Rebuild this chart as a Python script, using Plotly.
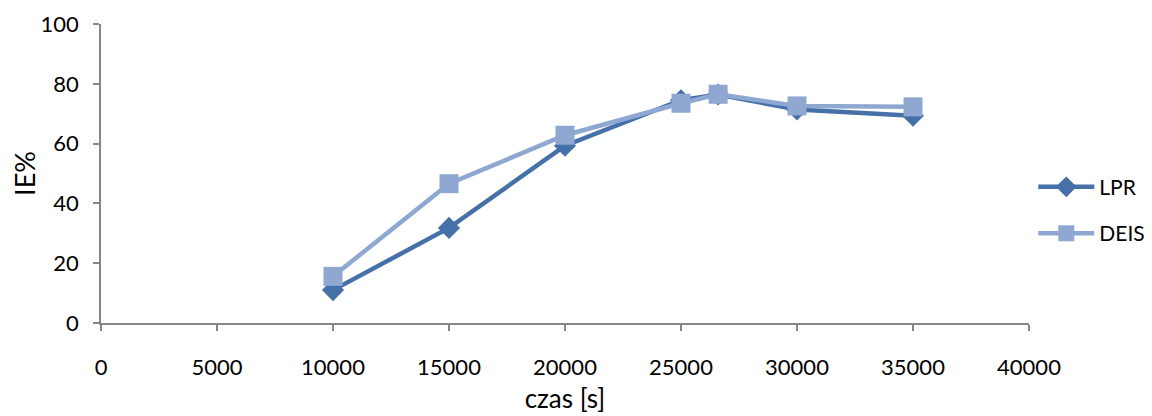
import plotly.graph_objects as go

time_s = [10000, 15000, 20000, 25000, 26600, 30000, 35000]
lpr = [11.0, 31.8, 59.3, 74.5, 76.4, 71.4, 69.3]
deis = [15.6, 46.6, 62.8, 73.5, 76.5, 72.6, 72.3]

x_ticks = [0, 5000, 10000, 15000, 20000, 25000, 30000, 35000, 40000]
y_ticks = [0, 20, 40, 60, 80, 100]

FONT = "Lato, Carlito, Calibri, sans-serif"

fig = go.Figure()
fig.add_trace(go.Scatter(
    x=time_s, y=lpr, name="LPR", mode="lines+markers", legendgroup="a",
    line=dict(color="#4571A8", width=4.5),
    marker=dict(symbol="diamond", size=17, color="#4571A8"),
))
fig.add_trace(go.Scatter(
    x=time_s, y=deis, name="DEIS", mode="lines+markers", legendgroup="b",
    line=dict(color="#8FA8D1", width=4.5),
    marker=dict(symbol="square", size=19, color="#8FA8D1"),
))

axis_common = dict(
    showgrid=False, zeroline=False, showline=True, linecolor="#868686", linewidth=1.5,
    ticks="outside", ticklen=6, tickcolor="#868686", tickwidth=1.5,
    tickfont=dict(family=FONT, size=22, color="#000000"),
    automargin=False,
)

fig.update_layout(
    width=1152, height=416,
    margin=dict(l=93, r=131, t=16, b=101, autoexpand=False),
    paper_bgcolor="white", plot_bgcolor="white",
    font=dict(family=FONT, size=22, color="#000000"),
    xaxis=dict(range=[0, 40000], tickvals=x_ticks, ticktext=[str(v) for v in x_ticks],
               ticklabelstandoff=18,
               title=dict(text="czas [s]", font=dict(family=FONT, size=26), standoff=11),
               **axis_common),
    yaxis=dict(range=[0, 100], tickvals=y_ticks, ticklabelstandoff=10,
               title=dict(text="IE%", font=dict(family=FONT, size=27), standoff=0),
               **axis_common),
    legend=dict(xref="container", yref="container", x=0.890, y=0.514,
                xanchor="left", yanchor="middle",
                font=dict(family=FONT, size=21), tracegroupgap=16, itemwidth=56,
                traceorder="grouped", bgcolor="rgba(0,0,0,0)"),
    showlegend=True,
)

fig.write_html("out.html")
